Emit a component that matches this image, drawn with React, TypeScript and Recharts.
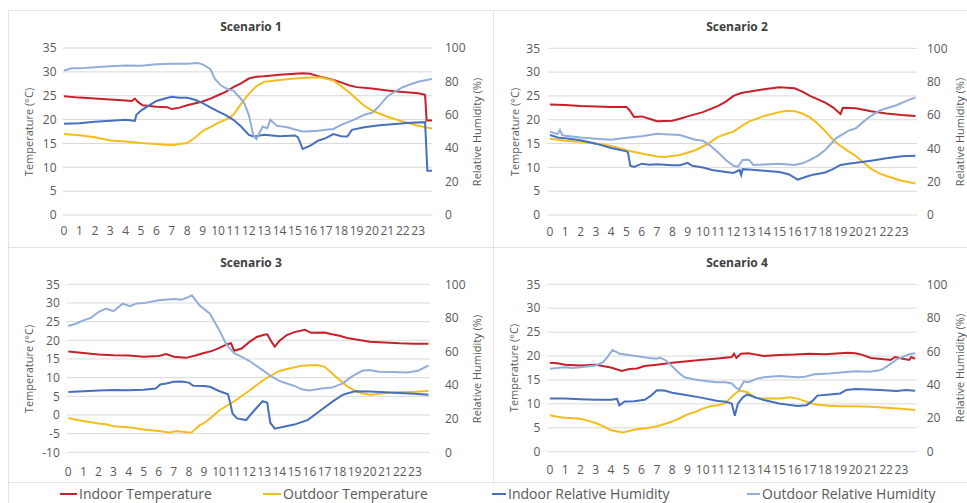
import React from 'react';
import { LineChart, Line, XAxis, YAxis, CartesianGrid } from 'recharts';

type Pts = [number, number][];

// ---------------- DATA ----------------
const seriesNames = ['Indoor Temperature', 'Outdoor Temperature', 'Indoor Relative Humidity', 'Outdoor Relative Humidity'];
const scenarioTitles = ['Scenario 1', 'Scenario 2', 'Scenario 3', 'Scenario 4'];
const hourTicks = [0, 1, 2, 3, 4, 5, 6, 7, 8, 9, 10, 11, 12, 13, 14, 15, 16, 17, 18, 19, 20, 21, 22, 23];
const tempTicksA = [0, 5, 10, 15, 20, 25, 30, 35];
const tempTicksB = [-10, -5, 0, 5, 10, 15, 20, 25, 30, 35];
const rhTicks = [0, 20, 40, 60, 80, 100];

// Scenario 1  [hour, value]
const s1IndoorTemp: Pts = [[0,24.9],[1,24.6],[2,24.4],[3,24.2],[4,24.0],[4.4,23.9],[4.6,24.4],[4.8,23.7],[5.1,23.0],[6,22.7],[6.7,22.6],[7,22.2],[7.5,22.5],[8,23.0],[9,23.8],[9.5,24.4],[10,25.1],[10.5,25.8],[11,26.8],[11.5,27.6],[12,28.6],[12.5,29.0],[13,29.1],[14,29.4],[15,29.6],[15.5,29.7],[16,29.6],[16.5,29.1],[17,28.7],[17.5,28.3],[18,27.8],[18.5,27.2],[19,26.8],[20,26.5],[21,26.1],[22,25.8],[23,25.5],[23.45,25.2],[23.55,19.8],[23.9,19.8]];
const s1OutdoorTemp: Pts = [[0,17.0],[1,16.7],[2,16.3],[3,15.6],[4,15.4],[5,15.1],[6,14.9],[7,14.6],[7.5,14.9],[8,15.1],[8.5,16.2],[9,17.6],[9.5,18.4],[10,19.3],[10.5,20.0],[11,21.0],[11.5,23.3],[12,25.4],[12.5,27.0],[13,27.9],[14,28.3],[15,28.6],[16,28.8],[16.7,28.8],[17.5,28.2],[18,27.0],[18.5,25.8],[19,24.3],[19.5,22.9],[20,21.9],[21,20.6],[22,19.6],[23,18.7],[23.9,18.1]];
const s1IndoorRH: Pts = [[0,54.6],[1,55.0],[2,55.8],[3,56.5],[4,57.0],[4.6,56.4],[4.7,60.0],[5,62.5],[5.5,65.5],[6,68.3],[6.5,69.6],[7,70.8],[7.5,70.2],[8,70.2],[8.5,69.0],[9,67.0],[9.5,64.5],[10,62.0],[10.5,59.8],[11,57.0],[11.5,53.0],[12,48.0],[12.3,47.0],[13,48.0],[14,47.2],[15,47.6],[15.2,46.5],[15.5,39.5],[16,41.5],[16.5,44.5],[17,46.0],[17.5,48.5],[18,47.2],[18.4,47.0],[18.7,51.0],[19.5,52.5],[20.5,53.8],[21.5,54.5],[22.5,55.2],[23.45,55.6],[23.6,26.5],[23.9,26.5]];
const s1OutdoorRH: Pts = [[0,86.5],[0.5,87.8],[1,87.8],[2,88.5],[3,89.0],[4,89.5],[5,89.3],[6,90.2],[7,90.5],[8,90.5],[8.7,91.0],[9,90.2],[9.5,87.5],[9.8,81.5],[10.2,77.5],[10.7,75.0],[11,74.5],[11.4,70.5],[11.7,67.0],[12,60.0],[12.3,47.5],[12.5,45.5],[12.9,53.0],[13.2,52.0],[13.4,57.0],[13.8,53.5],[14.5,52.5],[15,51.2],[15.5,50.0],[16,50.2],[16.5,50.5],[17,51.0],[17.5,51.5],[18,54.0],[18.8,57.0],[19.5,60.0],[20,61.2],[20.4,64.5],[21,71.0],[21.6,74.5],[22,76.5],[22.5,78.3],[23,79.8],[23.9,81.5]];

// Scenario 2
const s2IndoorTemp: Pts = [[0,23.2],[1,23.1],[2,22.9],[3,22.8],[4,22.7],[5,22.7],[5.2,22.0],[5.5,20.6],[6,20.7],[6.5,20.2],[7,19.7],[8,19.8],[8.5,20.2],[9,20.7],[10,21.6],[11,22.9],[11.5,23.8],[12,25.0],[12.5,25.6],[13,25.9],[14,26.4],[15,26.8],[16,26.6],[16.5,25.9],[17,25.0],[18,23.6],[18.5,22.6],[19,21.2],[19.15,22.5],[20,22.4],[21,21.8],[22,21.3],[23,21.0],[23.9,20.8]];
const s2OutdoorTemp: Pts = [[0,16.0],[1,15.6],[2,15.4],[3,15.0],[4,14.5],[5,13.6],[6,12.9],[7,12.3],[7.5,12.2],[8.5,12.6],[9.5,13.6],[10.3,14.9],[11,16.4],[11.5,17.0],[12,17.5],[12.5,18.6],[13,19.6],[14,20.8],[15,21.6],[15.5,21.9],[16,21.8],[16.5,21.3],[17,20.5],[17.5,19.2],[18,17.6],[18.5,15.8],[19,14.5],[19.5,13.4],[20,12.4],[20.5,11.0],[21,9.7],[21.5,8.8],[22,8.2],[23,7.2],[23.9,6.6]];
const s2IndoorRH: Pts = [[0,48.0],[0.5,46.5],[1,46.0],[2,44.8],[3,42.8],[4,40.2],[5,38.2],[5.1,37.5],[5.25,29.5],[5.5,28.8],[6,30.8],[6.5,30.2],[7,30.5],[8,29.8],[8.5,29.9],[9,31.3],[9.3,29.5],[10,28.5],[10.6,27.0],[11.5,25.8],[12,25.2],[12.4,27.0],[12.5,24.0],[12.6,27.5],[13,27.3],[14,26.5],[15,25.8],[15.6,24.5],[16.2,21.2],[16.7,22.8],[17.2,24.2],[18,25.5],[18.5,27.5],[19,30.0],[19.5,30.8],[20,31.3],[21,32.6],[22,34.0],[23,35.2],[23.9,35.6]];
const s2OutdoorRH: Pts = [[0,50.0],[0.5,48.5],[0.65,51.0],[0.8,48.0],[1,47.5],[2,46.5],[3,45.8],[4,45.2],[5,46.3],[6,47.2],[7,48.8],[7.5,48.5],[8.5,48.0],[9.5,45.2],[10,44.5],[10.5,41.5],[11,37.5],[11.5,33.0],[12,29.5],[12.3,29.0],[12.6,33.0],[13,33.2],[13.3,30.0],[14,30.3],[15,30.8],[16,30.0],[16.5,31.0],[17,33.0],[17.5,35.5],[18,39.0],[18.7,46.0],[19.5,50.5],[20,52.0],[20.5,56.0],[21,59.5],[21.5,62.5],[22,64.0],[22.7,66.0],[23.3,68.5],[23.9,70.5]];

// Scenario 3
const s3IndoorTemp: Pts = [[0,17.0],[1,16.6],[2,16.2],[3,16.0],[4,15.9],[5,15.6],[6,15.8],[6.5,16.3],[7,15.6],[7.8,15.3],[8.5,16.0],[9,16.6],[9.5,17.1],[10,17.9],[10.5,18.9],[10.8,19.2],[11.0,17.2],[11.5,17.8],[12,19.5],[12.5,20.9],[13,21.5],[13.2,21.6],[13.5,19.5],[13.7,18.3],[14,19.8],[14.5,21.4],[15,22.2],[15.7,22.8],[16.1,22.0],[17,22.1],[17.5,21.6],[18,21.2],[18.5,20.6],[19,20.3],[20,19.6],[21,19.4],[22,19.2],[23,19.1],[23.9,19.1]];
const s3OutdoorTemp: Pts = [[0,-0.8],[0.5,-1.3],[1,-1.6],[2,-2.3],[2.5,-2.5],[3,-3.0],[4,-3.3],[5,-3.9],[6,-4.3],[6.7,-4.7],[7.2,-4.3],[8,-4.7],[8.2,-4.6],[8.7,-2.8],[9,-2.2],[9.5,-0.6],[10,1.2],[10.5,2.4],[11,3.6],[12,6.5],[13,9.5],[14,11.8],[15,12.8],[15.5,13.2],[16.5,13.4],[17,12.9],[17.5,11.2],[18,9.4],[18.5,7.7],[19,6.5],[19.5,5.8],[20,5.4],[20.5,5.6],[21,5.9],[22,6.1],[23,6.2],[23.9,6.4]];
const s3IndoorRH: Pts = [[0,35.9],[1,36.3],[2,36.8],[3,37.1],[4,36.9],[5,37.2],[5.8,38.0],[6.1,40.4],[6.5,41.0],[7,42.0],[7.5,42.2],[8,41.5],[8.3,39.6],[9,39.5],[9.4,39.0],[10,36.5],[10.6,34.5],[10.75,29.0],[10.9,23.0],[11.2,20.2],[11.8,19.2],[12.1,22.5],[12.5,26.5],[12.9,30.5],[13.2,29.5],[13.4,17.6],[13.7,14.1],[14.2,15.0],[15,16.5],[15.9,19.3],[16.6,24.0],[17.5,30.0],[18.2,34.2],[19,36.3],[20,36.2],[21,35.8],[22,35.3],[23,34.8],[23.9,34.2]];
const s3OutdoorRH: Pts = [[0,75.2],[0.5,76.5],[1,78.5],[1.5,80.0],[2,83.5],[2.5,85.5],[3,84.0],[3.6,88.5],[4.1,87.0],[4.5,88.5],[5,88.8],[6,90.5],[7,91.2],[7.5,90.8],[8,92.5],[8.2,93.4],[8.7,87.5],[9.4,82.5],[10,73.0],[10.5,64.0],[11,59.0],[11.5,56.8],[12,54.5],[12.8,49.5],[13.5,45.0],[14,42.5],[15,39.5],[15.5,37.5],[16,36.8],[16.8,38.0],[17.5,38.5],[18.2,41.0],[18.8,45.0],[19.5,48.5],[20,49.0],[20.6,48.0],[21.5,47.8],[22.5,47.5],[23.2,48.5],[23.9,51.8]];

// Scenario 4
const s4IndoorTemp: Pts = [[0,18.6],[0.5,18.5],[1,18.2],[2,18.0],[3,18.2],[4,17.6],[4.7,16.9],[5.2,17.3],[5.7,17.4],[6.2,17.9],[7,18.2],[8,18.6],[9,18.9],[10,19.2],[11,19.5],[11.9,19.8],[12.05,20.5],[12.2,19.6],[12.5,20.5],[13,20.6],[13.5,20.3],[14,20.0],[15,20.2],[16,20.3],[17,20.5],[18,20.4],[19,20.6],[19.5,20.7],[20,20.6],[20.5,20.2],[21,19.6],[22,19.3],[22.3,19.2],[22.6,19.8],[23,19.5],[23.5,19.2],[23.65,19.8],[23.9,19.4]];
const s4OutdoorTemp: Pts = [[0,7.6],[0.5,7.3],[1,7.1],[2,6.9],[2.5,6.5],[3,6.0],[3.5,5.3],[4,4.5],[4.8,4.0],[5.5,4.6],[6,4.8],[6.5,5.0],[7,5.3],[7.5,5.8],[8,6.3],[8.5,7.0],[9,7.8],[9.5,8.3],[10,9.0],[10.5,9.5],[11,9.7],[11.5,10.2],[12,11.8],[12.4,12.8],[12.9,12.5],[13.5,11.2],[14,11.1],[15,11.1],[15.7,11.4],[16.2,11.1],[17,10.2],[17.5,9.8],[18.3,9.6],[19,9.5],[20,9.5],[21,9.4],[22,9.2],[23,9.0],[23.9,8.7]];
const s4IndoorRH: Pts = [[0,31.8],[1,31.8],[2,31.3],[3,31.0],[4,31.0],[4.4,31.5],[4.55,27.7],[4.9,30.0],[5.5,30.2],[6.2,31.0],[6.6,33.3],[7,36.7],[7.5,36.5],[8,35.2],[8.8,34.0],[9.9,32.3],[10.9,30.5],[11.5,29.8],[11.9,28.8],[12.1,21.5],[12.3,28.5],[12.6,32.3],[12.9,34.2],[13.5,32.3],[14,30.9],[15,28.8],[16.2,27.3],[16.8,27.8],[17.2,30.5],[17.5,33.5],[18.3,34.2],[19,34.8],[19.4,36.9],[20,37.5],[20.5,37.3],[21.6,36.9],[22.7,36.3],[23.3,36.8],[23.9,36.4]];
const s4OutdoorRH: Pts = [[0,49.6],[1,50.4],[1.5,50.0],[2,50.5],[3,51.5],[3.5,53.5],[3.8,57.0],[4.1,60.8],[4.6,58.5],[5.6,57.2],[6.5,56.0],[7,55.6],[7.2,56.2],[7.6,54.5],[8,51.0],[8.4,47.5],[8.8,44.5],[9.4,43.3],[9.9,42.5],[10.9,41.5],[11.5,41.5],[11.9,40.8],[12.2,38.0],[12.4,37.3],[12.7,42.0],[13.0,41.5],[13.5,43.5],[14,44.5],[15,45.2],[16.2,44.5],[16.7,44.8],[17.3,46.2],[18.3,46.7],[19.4,47.6],[20,48.0],[20.9,47.8],[21.5,48.5],[21.8,49.5],[22.3,52.5],[22.7,55.2],[23.5,58.2],[23.9,58.8]];

// ---------------- STYLE / LAYOUT ----------------
const COLORS = ['#C8202A', '#F4BC1C', '#4670BE', '#93ADDB'];
const FONT = "'Open Sans', 'Noto Sans', sans-serif";
const TEXT = '#595959';
const GRID = '#d9d9d9';

interface Layout {
  x: number; y: number; w: number; h: number;
  plotL: number; plotR: number; plotT: number; plotB: number;
  xDomain: [number, number];
  gapL: number; gapR: number; xLabelGap: number;
  tempTicks: number[];
  titleCx: number; titleCy: number; leftTitleCx: number; rightTitleCx: number; axisTitleCy: number;
}

const layouts: Layout[] = [
  { x: 0, y: 0, w: 490, h: 247, plotL: 62.5, plotR: 432, plotT: 48, plotB: 215, xDomain: [-0.1, 23.9], gapL: 6, gapR: 13, xLabelGap: 11, tempTicks: tempTicksA, titleCx: 251, titleCy: 27, leftTitleCx: 28, rightTitleCx: 476, axisTitleCy: 132 },
  { x: 494, y: 0, w: 473, h: 247, plotL: 548, plotR: 917, plotT: 48.3, plotB: 215, xDomain: [-0.13, 24], gapL: 8, gapR: 10, xLabelGap: 12, tempTicks: tempTicksA, titleCx: 737, titleCy: 27, leftTitleCx: 514, rightTitleCx: 959, axisTitleCy: 132 },
  { x: 0, y: 247, w: 490, h: 235, plotL: 66.8, plotR: 430, plotT: 284.3, plotB: 452.3, xDomain: [-0.1, 24], gapL: 7, gapR: 15, xLabelGap: 15, tempTicks: tempTicksB, titleCx: 251, titleCy: 263, leftTitleCx: 28, rightTitleCx: 476, axisTitleCy: 369 },
  { x: 494, y: 247, w: 473, h: 235, plotL: 548.3, plotR: 916.7, plotT: 284.3, plotB: 451.7, xDomain: [-0.1, 24], gapL: 8, gapR: 10, xLabelGap: 14, tempTicks: tempTicksA, titleCx: 737, titleCy: 263, leftTitleCx: 513, rightTitleCx: 959, axisTitleCy: 368 },
];

const scenarioSeries: Pts[][] = [
  [s1IndoorTemp, s1OutdoorTemp, s1IndoorRH, s1OutdoorRH],
  [s2IndoorTemp, s2OutdoorTemp, s2IndoorRH, s2OutdoorRH],
  [s3IndoorTemp, s3OutdoorTemp, s3IndoorRH, s3OutdoorRH],
  [s4IndoorTemp, s4OutdoorTemp, s4IndoorRH, s4OutdoorRH],
];

const legendPos = [
  { lx1: 60, lx2: 77, tx: 79 },
  { lx1: 263, lx2: 281, tx: 283 },
  { lx1: 492, lx2: 506, tx: 508 },
  { lx1: 747, lx2: 760, tx: 762 },
];

const toPts = (arr: Pts) => arr.map(([h, v]) => ({ h, v }));

function Panel({ L, title, series }: { L: Layout; title: string; series: Pts[] }) {
  const XH = 20;
  const leftW = L.plotL - L.x;
  const rightW = L.x + L.w - L.plotR;
  const top = L.plotT - L.y;
  const bottom = L.y + L.h - L.plotB - XH;
  const tick = { fill: TEXT, fontSize: 12, fontFamily: FONT };
  const tMin = L.tempTicks[0];
  const tMax = L.tempTicks[L.tempTicks.length - 1];
  return (
    <>
      <div style={{ position: 'absolute', left: L.x, top: L.y }}>
        <LineChart width={L.w} height={L.h} margin={{ top, right: 0, bottom, left: 0 }}>
          <CartesianGrid vertical={false} stroke={GRID} yAxisId="t" />
          <XAxis
            type="number"
            dataKey="h"
            domain={L.xDomain}
            ticks={hourTicks}
            interval={0}
            allowDataOverflow
            axisLine={false}
            tickLine={false}
            tickSize={0}
            tickMargin={L.xLabelGap}
            height={XH}
            tick={tick}
          />
          <YAxis
            yAxisId="t"
            orientation="left"
            domain={[tMin, tMax]}
            ticks={L.tempTicks}
            interval={0}
            axisLine={false}
            tickLine={false}
            tickSize={0}
            tickMargin={L.gapL}
            width={leftW}
            tick={tick}
          />
          <YAxis
            yAxisId="rh"
            orientation="right"
            domain={[0, 100]}
            ticks={rhTicks}
            interval={0}
            axisLine={false}
            tickLine={false}
            tickSize={0}
            tickMargin={L.gapR}
            width={rightW}
            tick={tick}
          />
          {series.map((s, i) => (
            <Line
              key={seriesNames[i]}
              name={seriesNames[i]}
              data={toPts(s)}
              dataKey="v"
              yAxisId={i < 2 ? 't' : 'rh'}
              type="linear"
              stroke={COLORS[i]}
              strokeWidth={2}
              dot={false}
              activeDot={false}
              isAnimationActive={false}
            />
          ))}
        </LineChart>
      </div>
      <div style={{ position: 'absolute', left: L.titleCx, top: L.titleCy, transform: 'translate(-50%,-50%)', fontSize: 12, fontWeight: 700, color: '#404040', whiteSpace: 'nowrap', lineHeight: 1 }}>{title}</div>
      <div style={{ position: 'absolute', left: L.leftTitleCx, top: L.axisTitleCy, transform: 'translate(-50%,-50%) rotate(-90deg)', fontSize: 11, color: TEXT, whiteSpace: 'nowrap', lineHeight: 1 }}>Temperature (°C)</div>
      <div style={{ position: 'absolute', left: L.rightTitleCx, top: L.axisTitleCy, transform: 'translate(-50%,-50%) rotate(-90deg)', fontSize: 11, color: TEXT, whiteSpace: 'nowrap', lineHeight: 1 }}>Relative Humidity (%)</div>
    </>
  );
}

export default function App() {
  const border = '#e3e3e3';
  return (
    <div style={{ position: 'absolute', left: 0, top: 0, width: 967, height: 503, overflow: 'hidden', background: '#fff', fontFamily: FONT }}>
      {/* panel frames */}
      <div style={{ position: 'absolute', left: 8, top: 10, width: 959, height: 1, background: border }} />
      <div style={{ position: 'absolute', left: 8, top: 247, width: 959, height: 1, background: border }} />
      <div style={{ position: 'absolute', left: 8, top: 482, width: 959, height: 1, background: border }} />
      <div style={{ position: 'absolute', left: 8, top: 10, width: 1, height: 493, background: border }} />
      <div style={{ position: 'absolute', left: 493, top: 10, width: 1, height: 472, background: border }} />
      {layouts.map((L, i) => (
        <Panel key={scenarioTitles[i]} L={L} title={scenarioTitles[i]} series={scenarioSeries[i]} />
      ))}
      {legendPos.map((p, i) => (
        <React.Fragment key={seriesNames[i]}>
          <div style={{ position: 'absolute', left: p.lx1, top: 493, width: p.lx2 - p.lx1, height: 2, background: COLORS[i] }} />
          <div style={{ position: 'absolute', left: p.tx, top: 494, transform: 'translateY(-50%)', fontSize: 14, color: TEXT, whiteSpace: 'nowrap', lineHeight: 1 }}>{seriesNames[i]}</div>
        </React.Fragment>
      ))}
    </div>
  );
}
